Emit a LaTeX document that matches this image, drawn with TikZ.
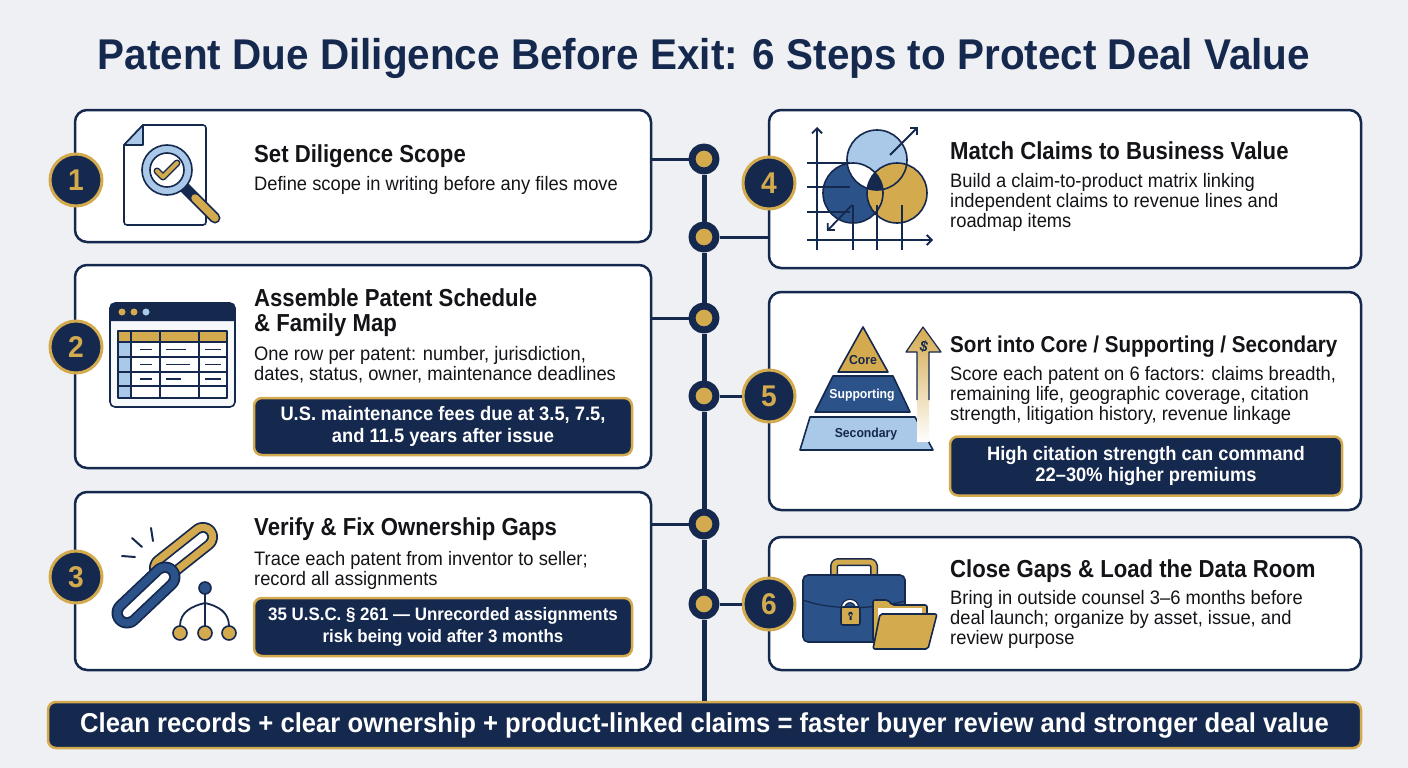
\documentclass[tikz,border=0pt]{standalone}
\usepackage{fontspec}
\setmainfont{Liberation Sans}[FakeStretch=0.94]
\newfontfamily\headfont{Liberation Sans}[FakeStretch=0.9]
\usepackage{tikz}
\usetikzlibrary{positioning}
\usetikzlibrary{arrows.meta}
\definecolor{navy}{RGB}{21,40,78}
\definecolor{gold}{RGB}{212,170,78}
\definecolor{midblue}{RGB}{44,82,138}
\definecolor{paleblue}{RGB}{170,200,232}
\definecolor{bgrey}{RGB}{238,240,243}
\definecolor{ink}{RGB}{20,20,24}

\begin{document}
\begin{tikzpicture}[x=1pt, y=-1pt, line join=round,
  card/.style={draw=navy, line width=2.5pt, fill=white, rounded corners=12pt, inner sep=0pt},
  numdisc/.style={circle, fill=navy, draw=gold, line width=3pt, minimum size=52pt, inner sep=0pt,
    text=gold, font=\bfseries\fontsize{30}{30}\selectfont},
  dot/.style={circle, fill=gold, draw=navy, line width=7pt, minimum size=24pt, inner sep=0pt},
  note/.style={fill=navy, draw=gold, line width=2.5pt, rounded corners=8pt, text=white, align=center,
    inner sep=0pt, font=\bfseries\fontsize{19.5}{21.5}\selectfont},
  head/.style={anchor=base west, inner sep=0pt, text=ink, align=left, font=\headfont\bfseries\fontsize{24.6}{25}\selectfont},
  body/.style={anchor=north west, inner sep=0pt, text=ink, align=left, font=\fontsize{19.5}{20}\selectfont},
  tier/.style={inner sep=0pt, font=\bfseries\fontsize{13}{13}\selectfont},
  icon/.style={draw=navy, line width=1.6pt},
  link/.style={navy, line width=3pt}]

\fill[bgrey] (0,0) rectangle (1408,768);
\useasboundingbox (0,0) rectangle (1408,768);

\node[anchor=base, text=navy, font=\bfseries\fontsize{43}{46}\selectfont] (title) at (704,70)
  {Patent Due Diligence Before Exit: 6 Steps to Protect Deal Value};

% cards
\node[card, minimum width=576pt, minimum height=132pt] (b1) at (363,176) {};
\node[card, minimum width=576pt, minimum height=203pt] (b2) at (363,366.5) {};
\node[card, minimum width=576pt, minimum height=178pt] (b3) at (363,581) {};
\node[card, minimum width=592pt, minimum height=158pt] (b4) at (1065,189) {};
\node[card, minimum width=592pt, minimum height=218pt] (b5) at (1065,401) {};
\node[card, minimum width=592pt, minimum height=133pt] (b6) at (1065,603.5) {};

\node[note, minimum width=1313pt, minimum height=46pt, font=\bfseries\fontsize{27.3}{27.3}\selectfont] (banner) at (704.5,725)
  {Clean records + clear ownership + product-linked claims = faster buyer review and stronger deal value};

% spine
\node[dot] (d1) at (704,159) {};
\node[dot] (d2) at (704,237) {};
\node[dot] (d3) at (704,318) {};
\node[dot] (d4) at (704,396) {};
\node[dot] (d5) at (704,524) {};
\node[dot] (d6) at (704,604) {};
\draw[navy, line width=5pt] (d1) -- (d2);
\draw[navy, line width=5pt] (d2) -- (d3);
\draw[navy, line width=5pt] (d3) -- (d4);
\draw[navy, line width=5pt] (d4) -- (d5);
\draw[navy, line width=5pt] (d5) -- (d6);
\draw[navy, line width=5pt] (d6) -- (d6 |- banner.north);

% step numbers
\node[numdisc] (c1) at (76,180) {1};
\node[numdisc] (c2) at (76,347) {2};
\node[numdisc] (c3) at (76,577) {3};
\node[numdisc] (c4) at (769,183) {4};
\node[numdisc] (c5) at (769,396) {5};
\node[numdisc] (c6) at (769,604) {6};

\draw[link] (d1) -- (d1 -| b1.east);
\draw[link] (d3) -- (d3 -| b2.east);
\draw[link] (d5) -- (d5 -| b3.east);
\draw[link] (d2) -- (d2 -| b4.west);
\draw[link] (d4) -- (c5);
\draw[link] (d6) -- (c6);

% texts
\node[head] (h1) at (254,162) {Set Diligence Scope};
\node[body] (t1) at (254,176) {Define scope in writing before any files move};
\node[head, anchor=north west] (h2) at (254,288) {Assemble Patent Schedule\\\& Family Map};
\node[body] (t2) at (254,346) {One row per patent: number, jurisdiction,\\dates, status, owner, maintenance deadlines};
\node[note, minimum width=378pt, minimum height=57pt] (n2) at (443,426.5) {U.S. maintenance fees due at 3.5, 7.5,\\and 11.5 years after issue};
\node[head] (h3) at (254,535) {Verify \& Fix Ownership Gaps};
\node[body] (t3) at (254,551) {Trace each patent from inventor to seller;\\record all assignments};
\node[note, minimum width=378pt, minimum height=58pt, font=\bfseries\fontsize{18}{21.5}\selectfont] (n3) at (443,627) {35 U.S.C. § 261 — Unrecorded assignments\\risk being void after 3 months};
\node[head] (h4) at (950,159) {Match Claims to Business Value};
\node[body] (t4) at (950,173) {Build a claim-to-product matrix linking\\independent claims to revenue lines and\\roadmap items};
\node[head, font=\headfont\bfseries\fontsize{22.9}{25}\selectfont] (h5) at (950,352) {Sort into Core / Supporting / Secondary};
\node[body] (t5) at (950,366) {Score each patent on 6 factors: claims breadth,\\remaining life, geographic coverage, citation\\strength, litigation history, revenue linkage};
\node[note, minimum width=392pt, minimum height=59pt] (n5) at (1146,466) {High citation strength can command\\22–30\% higher premiums};
\node[head] (h6) at (950,577) {Close Gaps \& Load the Data Room};
\node[body] (t6) at (950,590) {Bring in outside counsel 3–6 months before\\deal launch; organize by asset, issue, and\\review purpose};

% icon 1: document and magnifier
\draw[icon, fill=white] (124,145) -- (143,125) {[rounded corners=3pt] -- (206,125) -- (206,225) -- (124,225)} -- cycle;
\draw[icon, fill=paleblue] (143,125) -- (143,145) -- (124,145) -- cycle;
\draw[navy, line width=11pt, line cap=round] (185,188) -- (215,218);
\draw[gold, line width=7.5pt, line cap=round] (195,198) -- (215,218);
\draw[icon, fill=paleblue] (167,170) circle[radius=25];
\draw[icon, fill=white] (167,170) circle[radius=17];
\draw[navy, line width=7pt, line cap=round] (157,171) -- (163,177) -- (177,163);
\draw[gold, line width=4pt, line cap=round] (157,171) -- (163,177) -- (177,163);

% icon 2: spreadsheet window
\draw[icon, fill=bgrey!50!white, rounded corners=5pt] (110,303) rectangle (235,407);
\fill[navy] (110,321) {[rounded corners=5pt] -- (110,303) -- (235,303)} -- (235,321) -- cycle;
\fill[gold] (122,312) circle[radius=3.5];
\fill[gold] (134,312) circle[radius=3.5];
\fill[paleblue] (146,312) circle[radius=3.5];
\fill[white] (118,331) rectangle (227,398);
\fill[gold] (118,331) rectangle (227,342);
\fill[paleblue] (118,342) rectangle (131,398);
\foreach \y in {342,357,372,386}
  \draw[navy, line width=1.3pt] (118,\y) -- (227,\y);
\foreach \x in {131,160,199}
  \draw[navy, line width=1.3pt] (\x,331) -- (\x,398);
\draw[navy, line width=1.5pt] (118,331) rectangle (227,398);
\foreach \y/\e in {349.5/186,364.5/190,379/181}
  \draw[navy, line width=1.5pt] (140,\y) -- (152,\y) (166,\y) -- (\e,\y) (205,\y) -- (221,\y);

% icon 3: chain and tree
\foreach \w/\c in {30/navy,26.5/gold,12/navy,8.5/white}
  \draw[\c, line width=\w pt, line cap=round] (164,568) -- (203,537);
\foreach \w/\c in {31/navy,27.5/midblue,12/navy,8.5/white}
  \draw[\c, line width=\w pt, line cap=round] (127,613) -- (165,577);
\draw[navy, line width=2pt, line cap=round] (132,538) -- (142,547) (151,528) -- (153,541) (122,556) -- (135,557);
\draw[navy, line width=1.8pt] (205,594) -- (205,626)
  (205,603) .. controls (192,606) and (180,612) .. (180,626)
  (205,603) .. controls (218,606) and (229,612) .. (229,626);
\draw[icon, fill=midblue] (205,588) circle[radius=6];
\foreach \x in {180,205,229}
  \draw[icon, fill=gold] (\x,633) circle[radius=7];

% icon 4: venn over a grid
\fill[paleblue] (877,160) circle[radius=30];
\fill[midblue] (853,193) circle[radius=30];
\begin{scope}
  \clip (877,160) circle[radius=30];
  \fill[white] (853,193) circle[radius=30];
\end{scope}
\fill[gold] (897,193) circle[radius=30];
\begin{scope}
  \clip (877,160) circle[radius=30];
  \clip (853,193) circle[radius=30];
  \fill[navy] (897,193) circle[radius=30];
\end{scope}
\draw[icon] (877,160) circle[radius=30] (853,193) circle[radius=30] (897,193) circle[radius=30];
\foreach \y in {163,187,212}
  \draw[navy, line width=1.8pt] (807,\y) -- (850,\y);
\foreach \x in {853,877,902}
  \draw[navy, line width=1.8pt] (\x,205) -- (\x,250);
\draw[navy, line width=1.8pt, -{Straight Barb[length=5pt,width=10pt]}] (817,250) -- (817,127);
\draw[navy, line width=1.8pt, -{Straight Barb[length=5pt,width=10pt]}] (807,240) -- (933,240);
\draw[navy, line width=1.8pt, -{Straight Barb[length=5pt,width=10pt]}] (890,155) -- (918,127);
\draw[navy, line width=1.8pt, -{Straight Barb[length=5pt,width=10pt]}] (852,205) -- (827,231);

% icon 5: pyramid and arrow
\draw[icon, fill=gold] (863,327) -- (888,372) -- (838,372) -- cycle;
\draw[icon, fill=midblue] (833,376) -- (893,376) -- (910,412) -- (815,412) -- cycle;
\draw[icon, fill=paleblue] (810,417) -- (915,417) -- (933,450) -- (800,450) -- cycle;
\node[tier, text=navy] (core) at (863,360) {Core};
\node[tier, text=white] (supp) at (862,395) {Supporting};
\node[tier, text=navy] (seco) at (866,434) {Secondary};
\shade[top color=gold, bottom color=white] (917,442) -- (917,352) -- (906,352) -- (923,327) -- (941,352) -- (929,352) -- (929,442) -- cycle;
\draw[navy, line width=1.2pt] (917,400) -- (917,352) -- (906,352) -- (923,327) -- (941,352) -- (929,352) -- (929,400);
\node[inner sep=0pt, text=navy, rotate=-15, font=\bfseries\fontsize{15}{15}\selectfont] (usd) at (924,347) {\$};

% icon 6: briefcase and folder
\draw[navy, line width=8pt, rounded corners=4pt] (834,578) -- (834,562) -- (874,562) -- (874,578);
\draw[gold, line width=5pt, rounded corners=4pt] (834,578) -- (834,562) -- (874,562) -- (874,578);
\draw[icon, fill=midblue, rounded corners=5pt] (803,575) rectangle (905,642);
\draw[navy, line width=1.2pt] (803,600) .. controls (830,610) and (870,610) .. (905,601);
\draw[navy, line width=4.5pt] (843,608) arc[start angle=180, end angle=360, radius=7];
\draw[white, line width=2pt] (843,608) arc[start angle=180, end angle=360, radius=7];
\draw[icon, fill=gold, rounded corners=2pt] (841,607) rectangle (860,625);
\fill[navy] (850.5,614) circle[radius=2.3] (849.5,614) rectangle (851.5,620);
\draw[icon, fill=gold, rounded corners=2pt] (873,641) -- (873,600) -- (888,600) -- (892,605) -- (927,605) -- (927,641) -- cycle;
\fill[white] (878,608) rectangle (922,630);
\draw[icon, fill=gold, rounded corners=2pt] (880,614) -- (937,614) -- (928,649) -- (873,649) -- cycle;
\end{tikzpicture}
\end{document}
